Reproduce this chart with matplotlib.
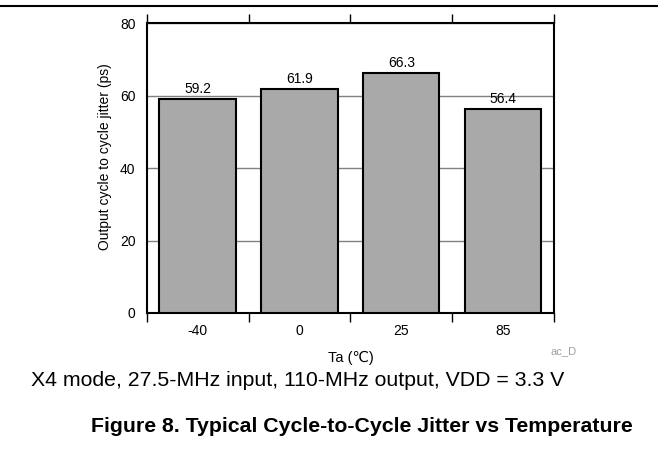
import matplotlib
matplotlib.use('Agg')
import matplotlib.pyplot as plt
from matplotlib.lines import Line2D

plt.rcParams['font.family'] = ['Liberation Sans', 'DejaVu Sans']

temps = ['-40', '0', '25', '85']
jitter = [59.2, 61.9, 66.3, 56.4]

fig = plt.figure(figsize=(6.58, 4.54), dpi=100)
ax = fig.add_axes([0.223, 0.3106, 0.619, 0.638])

x = range(len(temps))
bars = ax.bar(x, jitter, width=0.75, color='#a9a9a9', edgecolor='black',
              linewidth=1.5, zorder=3)
for b, v in zip(bars, jitter):
    ax.annotate(f'{v:.1f}', (b.get_x() + b.get_width() / 2, v),
                xytext=(0, 2), textcoords='offset points',
                ha='center', va='bottom', fontsize=10)

ax.set_xlim(-0.5, len(temps) - 0.5)
ax.set_ylim(0, 80)
ax.set_yticks([0, 20, 40, 60, 80])
ax.tick_params(axis='y', direction='in', length=0, labelsize=10, pad=8)
ax.yaxis.grid(True, color='#808080', linewidth=1, zorder=0)

# category labels without ticks, boundary ticks outward top and bottom
ax.set_xticks(list(x))
ax.set_xticklabels(temps)
ax.tick_params(axis='x', which='major', length=0, labelsize=10, pad=8)
ax.set_xticks([i - 0.5 for i in range(len(temps) + 1)], minor=True)
ax.tick_params(axis='x', which='minor', direction='out', length=6.5,
               width=1, top=True, bottom=True)

for s in ax.spines.values():
    s.set_linewidth(1.5)

ax.set_xlabel('Ta (℃)', fontsize=10.5, labelpad=9)
ax.set_ylabel('Output cycle to cycle jitter (ps)', fontsize=10)
ax.yaxis.set_label_coords(-0.085, 0.54)

fig.text(0.877, 0.227, 'ac_D', fontsize=8, color='#a0a0a0', ha='right', va='center')
fig.text(0.047, 0.161, 'X4 mode, 27.5-MHz input, 110-MHz output, VDD = 3.3 V',
         fontsize=15.3, ha='left', va='center')
fig.text(0.139, 0.06, 'Figure 8. Typical Cycle-to-Cycle Jitter vs Temperature',
         fontsize=15.3, fontweight='bold', ha='left', va='center')

fig.add_artist(Line2D([0, 1], [0.987, 0.987], color='black', linewidth=1.5,
                      transform=fig.transFigure))

fig.savefig('out.png', dpi=100)
